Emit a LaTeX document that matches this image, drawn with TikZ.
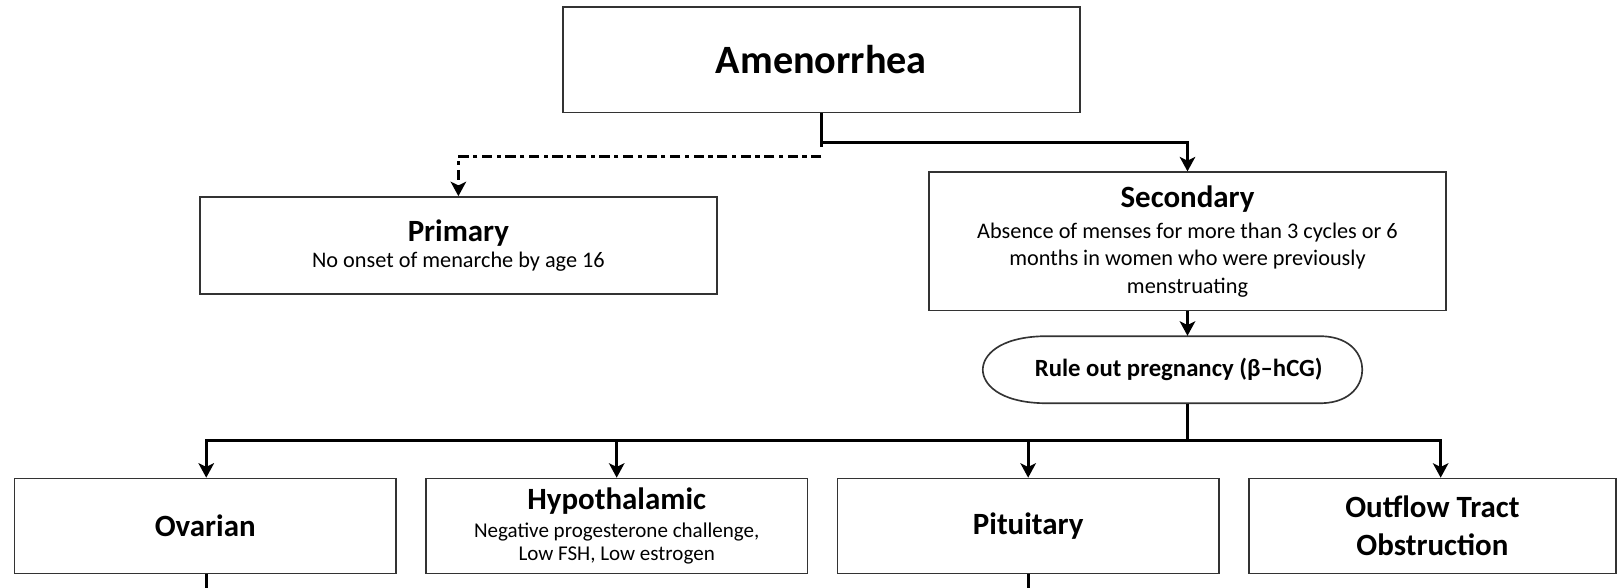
\documentclass[tikz,border=0pt]{standalone}
\usepackage{fontspec}
\setmainfont{Carlito}
\usetikzlibrary{arrows.meta,calc}
\begin{document}
\begin{tikzpicture}[x=0.5pt,y=-0.5pt,
  box/.style={draw=black!80,line width=0.8pt,inner sep=0pt,align=center,fill=white},
  conn/.style={line width=1.5pt,black},
  arr/.style={conn,-{Stealth[length=7pt,width=7.5pt,inset=1.8pt]}},
  dd/.style={arr,dash pattern=on 5pt off 2.2pt on 2pt off 2.2pt},
  ttl/.style={font=\fontsize{15}{18}\selectfont\bfseries},
]
\useasboundingbox (0,0) rectangle (1568,570);

% top node
\node[box,minimum width=250.5pt,minimum height=51pt,font=\fontsize{19.5}{23}\selectfont\bfseries] (amen) at (796.5,58) {Amenorrhea};

% primary / secondary
\node[box,minimum width=250.5pt,minimum height=47pt,font=\fontsize{10.8}{13.3}\selectfont] (prim) at (444.5,238)
  {{\fontsize{15}{18}\selectfont\bfseries Primary}\\[-0.7pt]No onset of menarche by age 16};
\node[box,minimum width=250.5pt,minimum height=67pt,font=\fontsize{10.8}{13.3}\selectfont] (sec) at (1151.5,234)
  {{\fontsize{15}{18}\selectfont\bfseries Secondary}\\[1.7pt]Absence of menses for more than 3 cycles or 6\\months in women who were previously\\menstruating};

% rule out pregnancy (ellipse-like outline)
\draw[draw=black!80,line width=0.8pt,fill=white]
  (1012,326) -- (1282,326) .. controls (1311,327) and (1321,345) .. (1321,358.5)
  .. controls (1321,372) and (1311,390) .. (1282,391) -- (1012,391)
  .. controls (968,390) and (953,372) .. (953,358.5)
  .. controls (953,345) and (968,327) .. (1012,326) -- cycle;
\node[inner sep=0pt,minimum width=184pt,minimum height=32.5pt,font=\fontsize{12}{14}\selectfont\bfseries] (preg) at (1143,358.5) {Rule out pregnancy (β–hCG)};

% bottom row
\node[box,minimum width=185pt,minimum height=46pt,ttl] (ovar) at (199,510) {Ovarian};
\node[box,minimum width=185pt,minimum height=46pt,font=\fontsize{10.2}{11.2}\selectfont] (hypo) at (598,510)
  {{\fontsize{15}{18}\selectfont\bfseries Hypothalamic}\\[2.2pt]Negative progesterone challenge,\\Low FSH, Low estrogen};
\node[box,minimum width=185pt,minimum height=46pt,ttl] (pit) at (997,510) {Pituitary};
\node[box,minimum width=178pt,minimum height=46pt,font=\fontsize{15}{18.5}\selectfont\bfseries] (out) at (1389,510) {Outflow Tract\\Obstruction};

% connectors from the top
\draw[conn] (amen.south) -- ++(0,33);
\draw[arr] ($(amen.south)+(0,28)$) -| (sec.north);
\draw[dd] ($(amen.south)+(0,42)$) -| (prim.north);

% secondary -> pregnancy -> bus
\draw[arr] (sec.south) -- (sec.south |- preg.north);
\coordinate (b1) at (200,427);
\coordinate (b2) at (598,427);
\coordinate (b3) at (997,427);
\coordinate (b4) at (1397,427);
\draw[arr] (sec.south |- preg.south) -- (sec.south |- b1) -| (b1 |- ovar.north);
\draw[arr] (sec.south |- b1) -| (b4 |- out.north);
\draw[arr] (b2) -- (b2 |- hypo.north);
\draw[arr] (b3) -- (b3 |- pit.north);

% lines leaving the bottom edge
\coordinate (e1) at (200,575);
\coordinate (e3) at (997,575);
\draw[conn] (ovar.south -| e1) -- (e1);
\draw[conn] (pit.south -| e3) -- (e3);
\end{tikzpicture}
\end{document}
